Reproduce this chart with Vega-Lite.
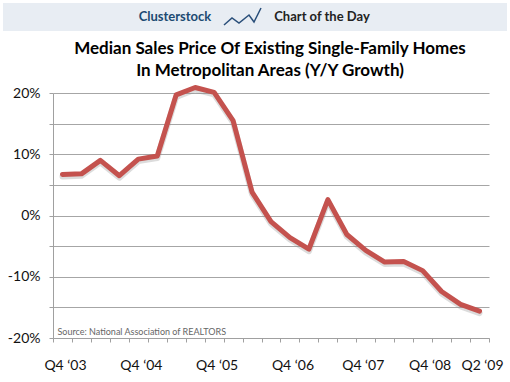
{
  "$schema": "https://vega.github.io/schema/vega-lite/v6.json",
  "padding": {"left": 3, "top": 3, "right": 3, "bottom": 3},
  "background": "white",
  "spacing": 8,
  "config": {"view": {"stroke": null}, "font": "Lato"},
  "datasets": {
    "sales": [
      {"q": "Q4 ‘03", "v": 6.7},
      {"q": "Q1 ‘04", "v": 6.8},
      {"q": "Q2 ‘04", "v": 9.0},
      {"q": "Q3 ‘04", "v": 6.5},
      {"q": "Q4 ‘04", "v": 9.2},
      {"q": "Q1 ‘05", "v": 9.7},
      {"q": "Q2 ‘05", "v": 19.7},
      {"q": "Q3 ‘05", "v": 20.9},
      {"q": "Q4 ‘05", "v": 20.1},
      {"q": "Q1 ‘06", "v": 15.5},
      {"q": "Q2 ‘06", "v": 3.8},
      {"q": "Q3 ‘06", "v": -1.0},
      {"q": "Q4 ‘06", "v": -3.6},
      {"q": "Q1 ‘07", "v": -5.5},
      {"q": "Q2 ‘07", "v": 2.6},
      {"q": "Q3 ‘07", "v": -3.1},
      {"q": "Q4 ‘07", "v": -5.7},
      {"q": "Q1 ‘08", "v": -7.6},
      {"q": "Q2 ‘08", "v": -7.5},
      {"q": "Q3 ‘08", "v": -9.0},
      {"q": "Q4 ‘08", "v": -12.4},
      {"q": "Q1 ‘09", "v": -14.5},
      {"q": "Q2 ‘09", "v": -15.6}
    ],
    "header": [
      {"part": "Clusterstock"},
      {"part": "Chart of the Day"}
    ],
    "logo": [
      {"t": 0, "h": 0},
      {"t": 8, "h": 7},
      {"t": 15, "h": 2},
      {"t": 25, "h": 10},
      {"t": 30, "h": 3},
      {"t": 37, "h": 17}
    ],
    "note": [{"text": "Source: National Association of REALTORS", "q": "Q4 ‘03", "v": -19.0}]
  },
  "vconcat": [
    {
      "width": 504,
      "height": 28,
      "view": {"fill": "#e8edf3", "stroke": null},
      "layer": [
        {
          "data": {"name": "header"},
          "mark": {"type": "text", "fontWeight": "bold", "fontSize": 13, "baseline": "middle"},
          "encoding": {
            "x": {"field": "part", "type": "nominal", "axis": null,
                  "scale": {"type": "point", "padding": 0, "domain": ["Clusterstock", "logo", "Chart of the Day"], "range": [172, 319]}},
            "text": {"field": "part"},
            "color": {"field": "part", "type": "nominal", "legend": null,
                      "scale": {"domain": ["Clusterstock", "Chart of the Day"], "range": ["#1c4a72", "#222222"]}}
          }
        },
        {
          "data": {"name": "logo"},
          "mark": {"type": "line", "color": "#2a4f7a", "strokeWidth": 1.5},
          "encoding": {
            "x": {"field": "t", "type": "quantitative", "axis": null, "scale": {"domain": [0, 37], "range": [221, 258]}},
            "y": {"field": "h", "type": "quantitative", "axis": null, "scale": {"domain": [0, 17], "range": [22, 5]}}
          }
        }
      ],
      "resolve": {"scale": {"x": "independent", "y": "independent", "color": "independent"}}
    },
    {
      "width": 486,
      "height": 245,
      "title": {
        "text": ["Median Sales Price Of Existing Single-Family Homes", "In Metropolitan Areas (Y/Y Growth)"],
        "fontSize": 17,
        "fontWeight": "bold",
        "font": "Lato",
        "color": "#000000",
        "lineHeight": 22,
        "anchor": "middle",
        "frame": "group",
        "dx": 24,
        "offset": 5
      },
      "encoding": {
        "x": {"field": "q", "type": "nominal", "sort": null,
              "scale": {"type": "band", "paddingInner": 0, "paddingOuter": 0, "range": [50, 486],
                        "domain": ["Q4 ‘03", "Q1 ‘04", "Q2 ‘04", "Q3 ‘04", "Q4 ‘04", "Q1 ‘05", "Q2 ‘05", "Q3 ‘05", "Q4 ‘05", "Q1 ‘06", "Q2 ‘06", "Q3 ‘06", "Q4 ‘06", "Q1 ‘07", "Q2 ‘07", "Q3 ‘07", "Q4 ‘07", "Q1 ‘08", "Q2 ‘08", "Q3 ‘08", "Q4 ‘08", "Q1 ‘09", "Q2 ‘09"]},
              "axis": {
                "title": null,
                "labelAngle": 0,
                "tickBand": "extent",
                "tickSize": 4,
                "tickColor": "#a0a0a0",
                "domainColor": "#a0a0a0",
                "labelFontSize": 14,
                "labelColor": "#111111",
                "labelPadding": 16,
                "labelOverlap": false,
                "labelFlush": false,
                "labelOffset": {"condition": [{"test": "datum.label === 'Q4 ‘08'", "value": -12}, {"test": "datum.label === 'Q4 ‘07'", "value": -3}], "value": 2.5},
                "labelExpr": "indexof(datum.label, 'Q4') === 0 || datum.label === 'Q2 ‘09' ? datum.label : ''"
              }},
        "y": {"field": "v", "type": "quantitative",
              "scale": {"domain": [-20, 20], "nice": false},
              "axis": {
                "title": null,
                "offset": -50,
                "values": [-20, -15, -10, -5, 0, 5, 10, 15, 20],
                "labelExpr": "datum.value % 10 === 0 ? datum.value + '%' : ''",
                "grid": true,
                "gridColor": "#a6a6a6",
                "tickSize": 4,
                "tickColor": "#a0a0a0",
                "domainColor": "#a0a0a0",
                "labelFontSize": 14,
                "labelColor": "#111111",
                "labelPadding": 9
              }}
      },
      "layer": [
        {
          "data": {"name": "sales"},
          "mark": {"type": "line", "color": "#8a8a8a", "opacity": 0.3, "strokeWidth": 6, "strokeJoin": "round", "strokeCap": "round"},
          "encoding": {
            "yOffset": {"value": 2}
          }
        },
        {
          "data": {"name": "sales"},
          "mark": {"type": "line", "color": "#c4524e", "strokeWidth": 5, "strokeJoin": "round", "strokeCap": "round"}
        },
        {
          "data": {"name": "note"},
          "mark": {"type": "text", "align": "left", "baseline": "middle", "fontSize": 9, "color": "#666666", "dx": -5},
          "encoding": {
            "text": {"field": "text"}
          }
        }
      ]
    }
  ]
}
